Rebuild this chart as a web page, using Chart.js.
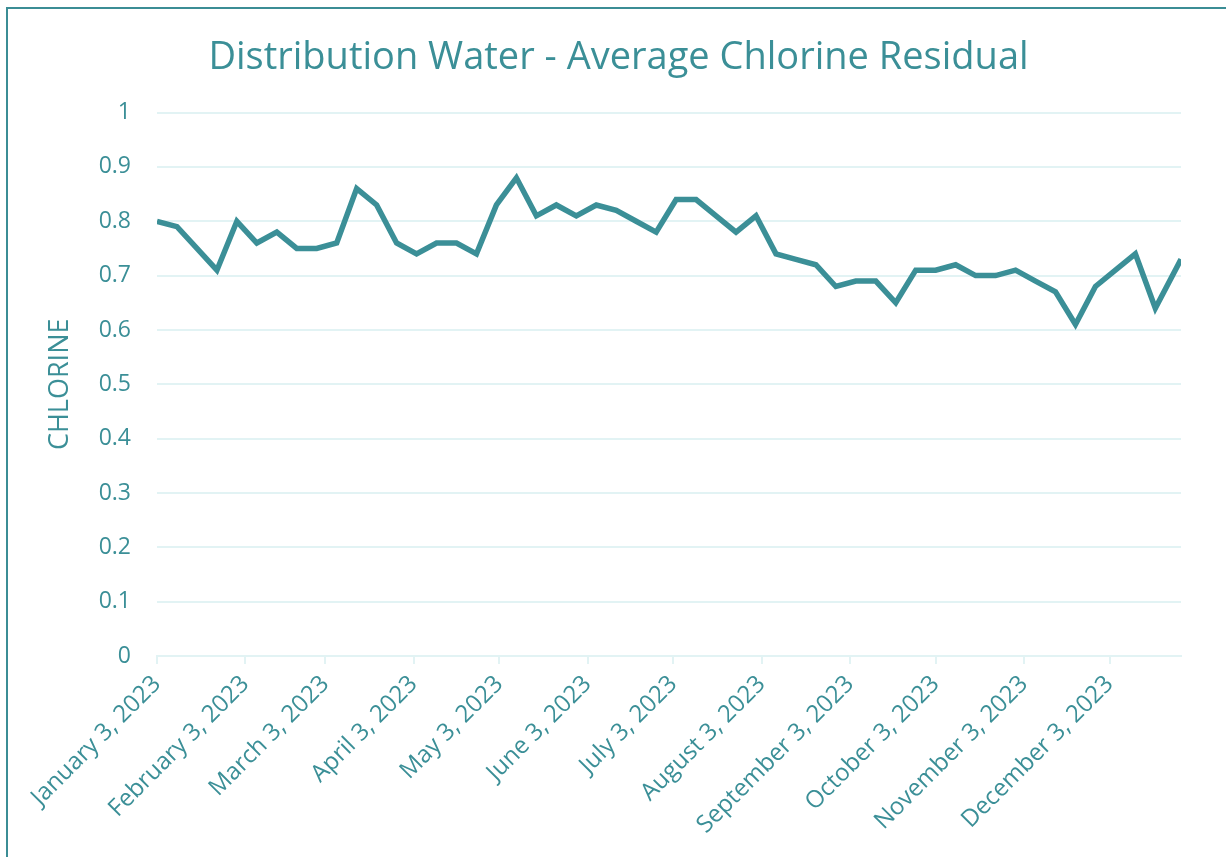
<!DOCTYPE html>
<html>
<head>
<meta charset="utf-8">
<title>Distribution Water - Average Chlorine Residual</title>
<script src="https://cdn.jsdelivr.net/npm/chart.js@4.4.1/dist/chart.umd.min.js"></script>
<style>
  html, body { margin: 0; padding: 0; background: #fff; overflow: hidden; }
  #frame {
    position: absolute; left: 6px; top: 7px; width: 1300px; height: 1000px;
    border-left: 2px solid #3b8d95; border-top: 2px solid #3b8d95;
  }
  #wrap { position: absolute; left: 0; top: 0; width: 1226px; height: 857px; }
</style>
</head>
<body>
<div id="frame"></div>
<div id="wrap"><canvas id="chlorineChart" width="1226" height="857"></canvas></div>
<script>
// --- Datos ---
const sampleDates = [
    '2023-01-03', '2023-01-10', '2023-01-17', '2023-01-24', '2023-01-31',
    '2023-02-07', '2023-02-14', '2023-02-21', '2023-02-28',
    '2023-03-07', '2023-03-14', '2023-03-21', '2023-03-28',
    '2023-04-04', '2023-04-11', '2023-04-18', '2023-04-25',
    '2023-05-02', '2023-05-09', '2023-05-16', '2023-05-23', '2023-05-30',
    '2023-06-06', '2023-06-13', '2023-06-20', '2023-06-27',
    '2023-07-04', '2023-07-11', '2023-07-18', '2023-07-25',
    '2023-08-01', '2023-08-08', '2023-08-15', '2023-08-22', '2023-08-29',
    '2023-09-05', '2023-09-12', '2023-09-19', '2023-09-26',
    '2023-10-03', '2023-10-10', '2023-10-17', '2023-10-24', '2023-10-31',
    '2023-11-07', '2023-11-14', '2023-11-21', '2023-11-28',
    '2023-12-05', '2023-12-12', '2023-12-19', '2023-12-28'
];
const chlorine = [
    0.80, 0.79, 0.75, 0.71, 0.80, 0.76, 0.78, 0.75, 0.75, 0.76,
    0.86, 0.83, 0.76, 0.74, 0.76, 0.76, 0.74, 0.83, 0.88, 0.81,
    0.83, 0.81, 0.83, 0.82, 0.80, 0.78, 0.84, 0.84, 0.81, 0.78,
    0.81, 0.74, 0.73, 0.72, 0.68, 0.69, 0.69, 0.65, 0.71, 0.71,
    0.72, 0.70, 0.70, 0.71, 0.69, 0.67, 0.61, 0.68, 0.71, 0.74,
    0.64, 0.73
];
const tickDates = [
    '2023-01-03', '2023-02-03', '2023-03-03', '2023-04-03', '2023-05-03', '2023-06-03',
    '2023-07-03', '2023-08-03', '2023-09-03', '2023-10-03', '2023-11-03', '2023-12-03'
];
const monthNames = ['January', 'February', 'March', 'April', 'May', 'June', 'July',
    'August', 'September', 'October', 'November', 'December'];

// --- Utilidades ---
function toMs(s) {
    const p = s.split('-').map(Number);
    return Date.UTC(p[0], p[1] - 1, p[2]);
}
function fmtDate(ms) {
    const d = new Date(ms);
    return monthNames[d.getUTCMonth()] + ' ' + d.getUTCDate() + ', ' + d.getUTCFullYear();
}

const teal = '#3b8f97';
const gridColor = '#e2f3f4';
const points = sampleDates.map((d, i) => ({ x: toMs(d), y: chlorine[i] }));

Chart.defaults.font.family = '"Open Sans", "Noto Sans", sans-serif';
Chart.defaults.color = teal;

// El título va centrado sobre la zona del gráfico (con el eje Y incluido a medias)
const titleShift = {
    id: 'titleShift',
    afterLayout(chart) {
        if (chart.titleBlock) chart.titleBlock.left = 56;
    }
};

new Chart(document.getElementById('chlorineChart').getContext('2d'), {
    type: 'line',
    data: {
        datasets: [{
            label: 'Chlorine',
            data: points,
            borderColor: teal,
            backgroundColor: teal,
            borderWidth: 5.5,
            pointRadius: 0,
            tension: 0,
            fill: false
        }]
    },
    plugins: [titleShift],
    options: {
        responsive: false,
        animation: false,
        layout: { padding: { left: 0, right: 45, top: 0, bottom: 0 } },
        plugins: {
            legend: { display: false },
            tooltip: { enabled: false },
            title: {
                display: true,
                text: 'Distribution Water - Average Chlorine Residual',
                color: teal,
                font: { size: 38, weight: 'normal' },
                padding: { top: 35, bottom: 32 }
            }
        },
        scales: {
            x: {
                type: 'linear',
                min: toMs(sampleDates[0]),
                max: toMs(sampleDates[sampleDates.length - 1]),
                afterBuildTicks: (scale) => {
                    scale.ticks = tickDates.map(d => ({ value: toMs(d) }));
                },
                afterFit: (scale) => {
                    scale.height = 201;
                    scale.paddingLeft = 0;
                    scale.paddingRight = 0;
                },
                ticks: {
                    autoSkip: false,
                    minRotation: 45,
                    maxRotation: 45,
                    padding: 6,
                    color: teal,
                    font: { size: 24 },
                    callback: (v) => fmtDate(v)
                },
                grid: {
                    drawOnChartArea: false,
                    drawTicks: true,
                    tickLength: 8,
                    color: gridColor,
                    lineWidth: 2
                },
                border: { display: true, color: gridColor, width: 2 }
            },
            y: {
                min: 0,
                max: 1,
                afterFit: (scale) => {
                    scale.width = 157;
                    scale.paddingTop = 0;
                    scale.paddingBottom = 0;
                },
                ticks: {
                    stepSize: 0.1,
                    padding: 26,
                    color: teal,
                    font: { size: 23 },
                    callback: (v) => String(Math.round(v * 10) / 10)
                },
                grid: { color: gridColor, lineWidth: 2, drawTicks: false },
                border: { display: false },
                title: {
                    display: true,
                    text: 'CHLORINE',
                    color: teal,
                    font: { size: 27 },
                    padding: { top: 44, bottom: 0 }
                }
            }
        }
    }
});
</script>
</body>
</html>
